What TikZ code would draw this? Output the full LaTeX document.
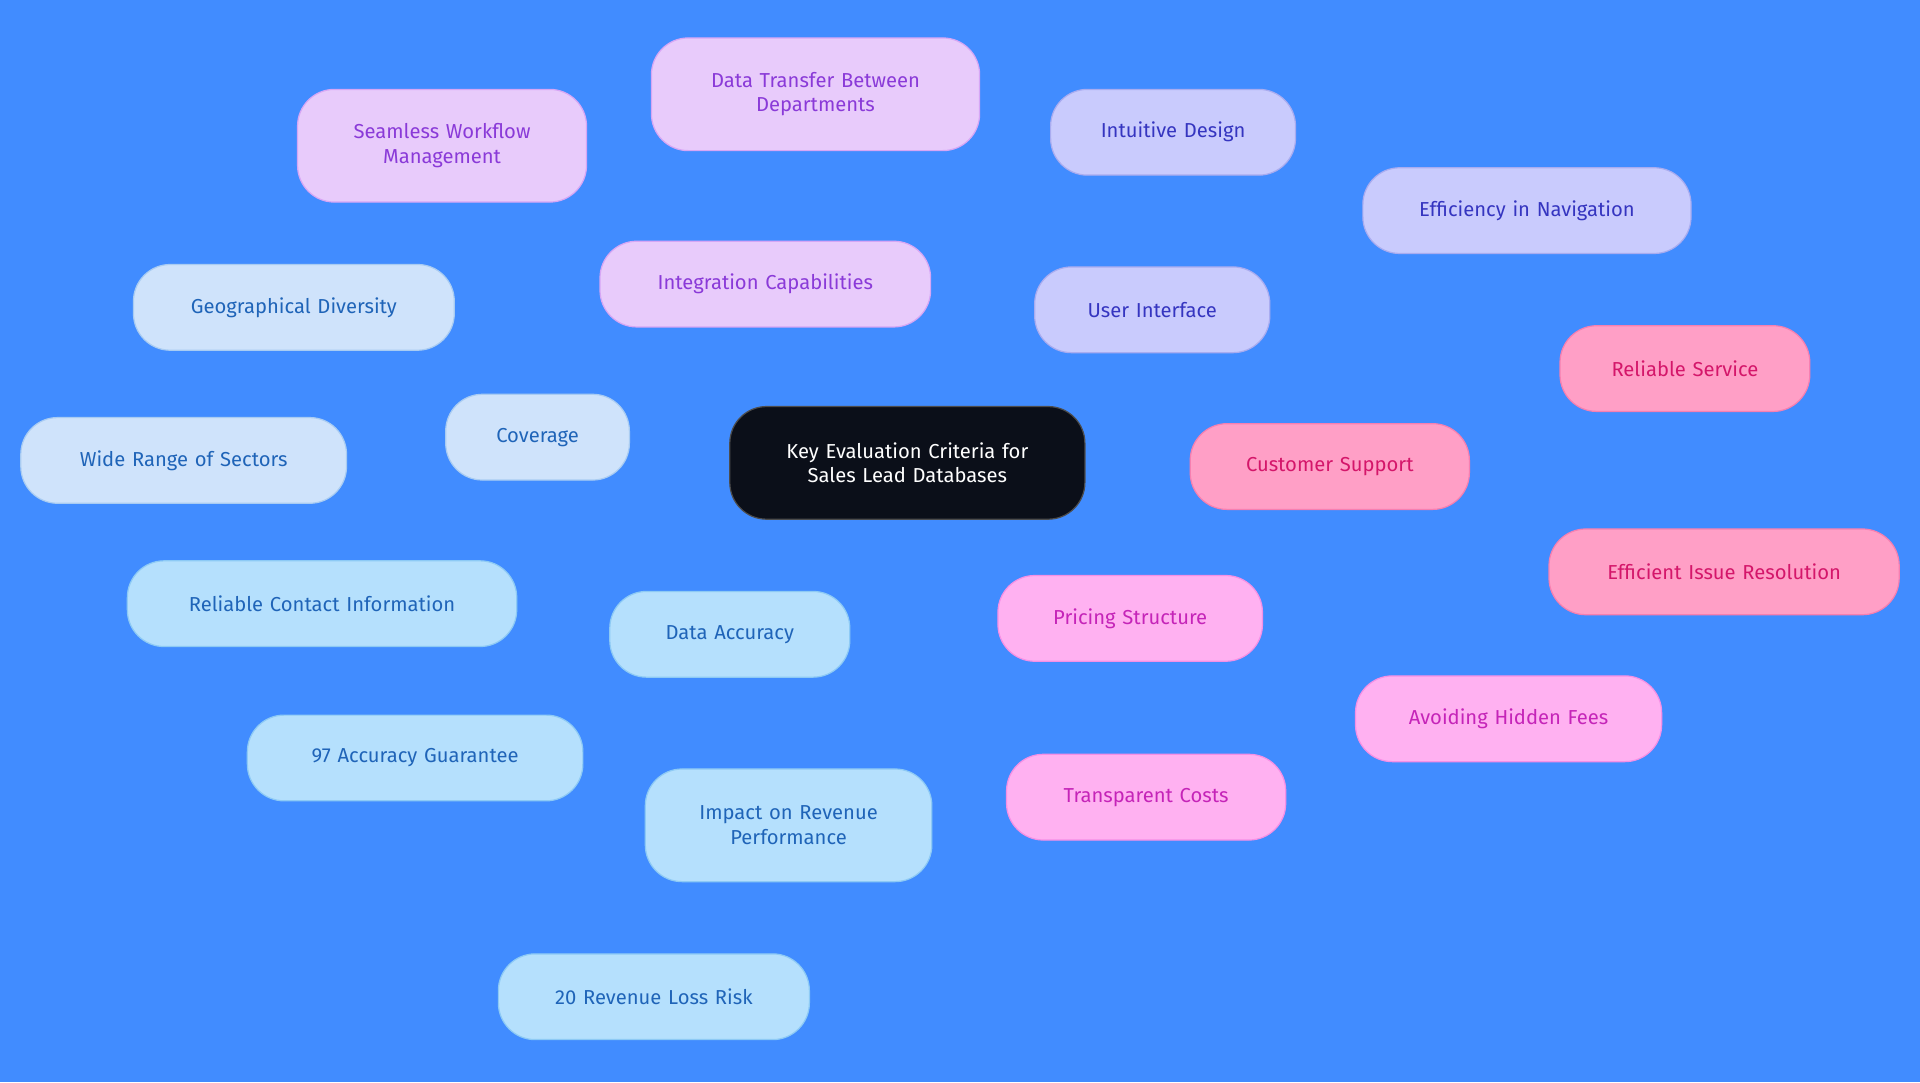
\documentclass[tikz,border=0pt]{standalone}
\usepackage{fontspec}
\setmainfont{Fira Sans}
\usetikzlibrary{backgrounds}
\definecolor{bg}{HTML}{418CFF}
\definecolor{rootc}{HTML}{0B0F19}
\definecolor{pf}{HTML}{E8CBFB}\definecolor{pt}{HTML}{8A3AD8}\definecolor{pb}{HTML}{D6A6F5}
\definecolor{uf}{HTML}{C9CBFD}\definecolor{ut}{HTML}{3535C0}\definecolor{ub}{HTML}{A9ACF0}
\definecolor{cf}{HTML}{FF9FC6}\definecolor{ct}{HTML}{D4166A}\definecolor{cb}{HTML}{F77FB0}
\definecolor{sf}{HTML}{FFB1F1}\definecolor{st}{HTML}{C524B8}\definecolor{sb}{HTML}{F58FE5}
\definecolor{df}{HTML}{B5E0FD}\definecolor{dt}{HTML}{1F64B8}\definecolor{db}{HTML}{8DCAF5}
\definecolor{vf}{HTML}{CFE3FB}\definecolor{vb}{HTML}{A9CCF2}
\begin{document}
\begin{tikzpicture}[x=1pt,y=-1pt,
  box/.style={rounded corners=30pt,draw,line width=1pt,align=center,inner sep=0pt,font=\fontsize{16.5}{20}\selectfont},
  bx/.style n args={3}{box,minimum width=#1pt,minimum height=#2pt,text width=#3pt},
  P/.style={fill=pf,text=pt,draw=pb},U/.style={fill=uf,text=ut,draw=ub},
  C/.style={fill=cf,text=ct,draw=cb},S/.style={fill=sf,text=st,draw=sb},
  D/.style={fill=df,text=dt,draw=db},V/.style={fill=vf,text=dt,draw=vb},
  e/.style={line width=2pt}]
\fill[bg] (0,0) rectangle (1568,884);
\node[bx={290}{92}{260},fill=rootc,draw=gray!60!black,text=white] (root) at (741,378) {Key Evaluation Criteria for\\Sales Lead Databases};
\node[bx={270}{70}{250},P] (ic) at (625,232) {Integration Capabilities};
\node[bx={236}{92}{210},P] (sw) at (361,119) {Seamless Workflow\\Management};
\node[bx={268}{92}{240},P] (dtb) at (666,77) {Data Transfer Between\\Departments};
\node[bx={192}{70}{180},U] (ui) at (941,253) {User Interface};
\node[bx={200}{70}{190},U] (id) at (958,108) {Intuitive Design};
\node[bx={268}{70}{250},U] (en) at (1247,172) {Efficiency in Navigation};
\node[bx={228}{70}{210},C] (cs) at (1086,381) {Customer Support};
\node[bx={204}{70}{190},C] (rs) at (1376,301) {Reliable Service};
\node[bx={286}{70}{270},C] (eir) at (1408,467) {Efficient Issue Resolution};
\node[bx={216}{70}{200},S] (ps) at (923,505) {Pricing Structure};
\node[bx={250}{70}{240},S] (ahf) at (1232,587) {Avoiding Hidden Fees};
\node[bx={228}{70}{210},S] (tc) at (936,651) {Transparent Costs};
\node[bx={196}{70}{180},D] (da) at (596,518) {Data Accuracy};
\node[bx={318}{70}{300},D] (rci) at (263,493) {Reliable Contact Information};
\node[bx={274}{70}{260},D] (ag) at (339,619) {97 Accuracy Guarantee};
\node[bx={234}{92}{210},D] (irp) at (644,674) {Impact on Revenue\\Performance};
\node[bx={254}{70}{240},D] (rlr) at (534,814) {20 Revenue Loss Risk};
\node[bx={150}{70}{140},V] (cov) at (439,357) {Coverage};
\node[bx={262}{70}{250},V] (gd) at (240,251) {Geographical Diversity};
\node[bx={266}{70}{250},V] (wrs) at (150,376) {Wide Range of Sectors};
\begin{pgfonlayer}{background}
\draw[e,draw=pb] (root)--(ic) (ic)--(sw) (ic)--(dtb);
\draw[e,draw=ub] (root)--(ui) (ui)--(id) (ui)--(en);
\draw[e,draw=cb] (root)--(cs) (cs)--(rs) (cs)--(eir);
\draw[e,draw=sb] (root)--(ps) (ps)--(ahf) (ps)--(tc);
\draw[e,draw=db] (root)--(da) (da)--(rci) (da)--(ag) (da)--(irp) (irp)--(rlr);
\draw[e,draw=vb] (root)--(cov) (cov)--(gd) (cov)--(wrs);
\end{pgfonlayer}
\end{tikzpicture}
\end{document}
